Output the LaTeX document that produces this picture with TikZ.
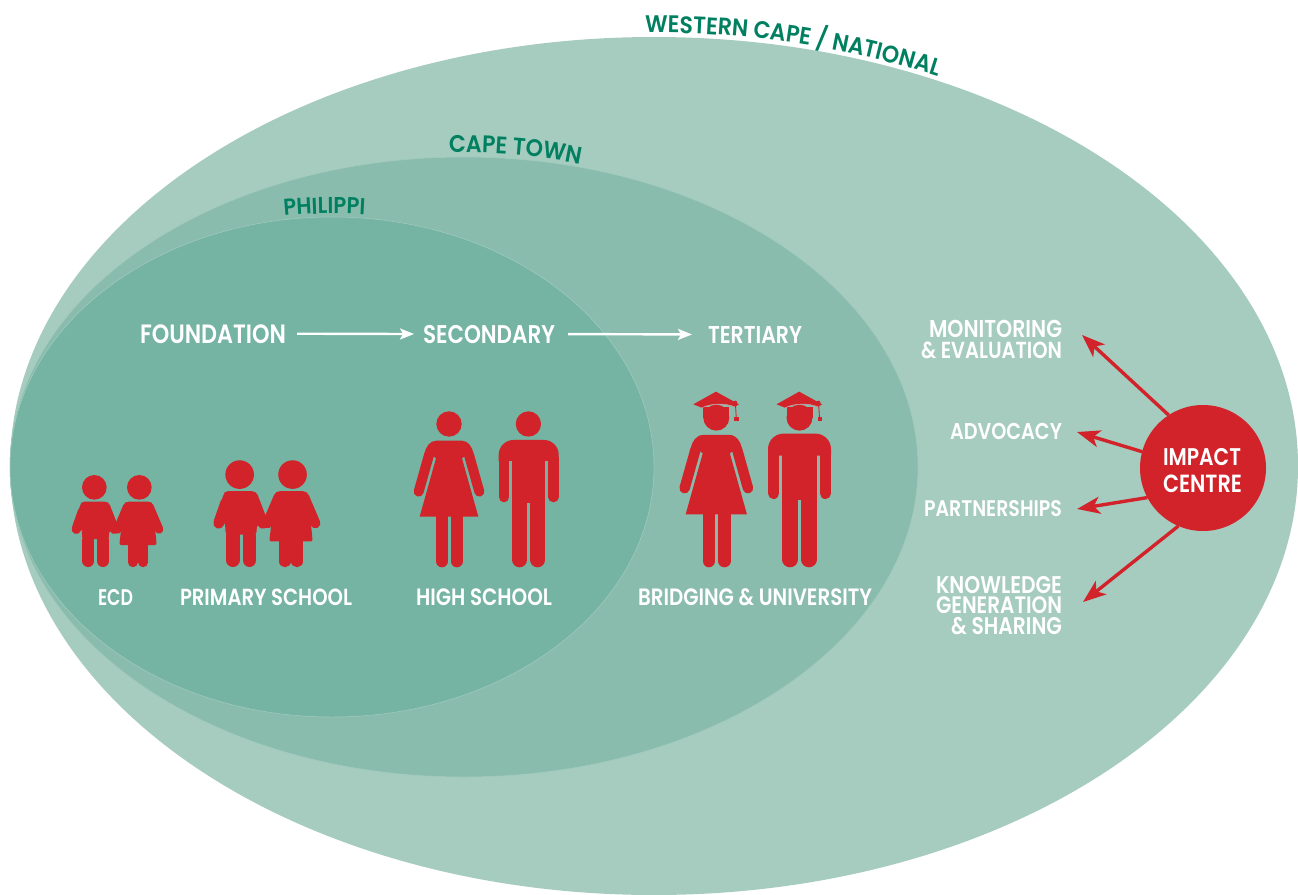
\documentclass[tikz,border=0pt]{standalone}
\usepackage{fontspec}
\usepackage{graphicx}
\usetikzlibrary{arrows.meta,decorations.text}
\newfontfamily\fut[UprightFont=* SemiBold,FakeStretch=0.84]{Poppins}
\newfontfamily\futc[UprightFont=* SemiBold,FakeStretch=0.92]{Poppins}
\newcommand\fitw[2]{\resizebox{#1pt}{!}{\fut #2}}
\definecolor{outerc}{HTML}{A6CBBF}
\definecolor{midc}{HTML}{8ABCAD}
\definecolor{innerc}{HTML}{75B3A2}
\definecolor{figred}{HTML}{D2232A}
\definecolor{edgec}{HTML}{A3CCBF}
\definecolor{labgreen}{HTML}{008060}
\tikzset{
  lab/.style={text=white,inner sep=0pt,outer sep=0pt,anchor=base west},
  hub/.style={circle,fill=figred,minimum size=126pt,inner sep=0pt,outer sep=0pt},
  redarrow/.style={draw=figred,line width=3.4pt,-{Stealth[length=23pt,width=17pt,inset=6pt]}},
  whitearrow/.style={draw=white,line width=2.4pt,-{Stealth[length=14pt,width=11pt,inset=3pt]}}
}
\newcommand\limb[3]{\draw[figred,line cap=round,line width=\fs*#3 pt] #1 -- #2;}
\newcommand\placefig[5]{\begin{scope}[shift={(#1,#2)},scale=#3,shift={(#4)}]\def\fs{#3}#5\end{scope}}
% boy template: foot line y=381, centre x=136.5
\newcommand\boyfig{%
  \fill[figred] (133,142) circle (37);
  \fill[figred,rounded corners=2pt] (97,185) -- (170,185) -- (178,190) -- (204,262) -- (178,272) -- (176,297) -- (97,297) -- (95,265) -- (66,262) -- (93,190) -- cycle;
  \limb{(79,268)}{(97,215)}{28}
  \limb{(193,268)}{(172,215)}{28}
  \limb{(115,300)}{(115,363)}{36}
  \limb{(158.5,300)}{(158.5,363)}{36}
}
% girl template: foot line y=381, centre x=264
\newcommand\girlfig{%
  \fill[figred] (268,142) circle (37);
  \fill[figred,rounded corners=2pt] (230,185) -- (300,185) -- (308,190) -- (320,315) -- (208,315) -- (222,190) -- cycle;
  \limb{(203,268)}{(232,200)}{26}
  \limb{(327,268)}{(298,200)}{26}
  \limb{(248.5,310)}{(248.5,367)}{29}
  \limb{(279.5,310)}{(279.5,367)}{29}
}
% woman body template: foot line y=562, centre x=147
\newcommand\womanbody{%
  \fill[figred] (110,182) -- (184,182) .. controls (205,182) and (216,200) .. (221,221) -- (193,229) -- (186,235) -- (235,410) -- (59,410) -- (108,235) -- (101,229) -- (73,221) .. controls (78,200) and (89,182) .. (110,182) -- cycle;
  \limb{(207,225)}{(238,335)}{30}
  \limb{(87,225)}{(56,335)}{30}
  \limb{(125.5,405)}{(125.5,544)}{36}
  \limb{(170,405)}{(170,544)}{36}
}
% man body template: foot line y=562, centre x=386
\newcommand\manbody{%
  \fill[figred] (296,243) -- (296,224) .. controls (296,200) and (316,180) .. (340,180) -- (432,180) .. controls (456,180) and (476,200) .. (476,224) -- (476,243) -- cycle;
  \fill[figred] (337,240) rectangle (435,370);
  \limb{(312,235)}{(312,351)}{32}
  \limb{(460,235)}{(460,351)}{32}
  \limb{(359,365)}{(359,540)}{44}
  \limb{(413,365)}{(413,540)}{44}
}
% graduate head template: foot line y=562, centre x=949
\newcommand\gradhead{%
  \fill[figred] (949,113) circle (39);
  \fill[figred] (910,80) rectangle (988,113);
  \fill[figred] (880,73) -- (948,35) -- (1017,73) -- (1005,80) .. controls (975,68) and (935,68) .. (905,83) -- cycle;
  \draw[figred!55!white,line width=0.5pt] (905,84) .. controls (935,69) and (975,69) .. (1005,81);
  \draw[figred,line width=0.9pt] (1006,65) -- (1009,115);
  \fill[figred] (1006,68) circle (6);
  \fill[figred] (1003,112) rectangle (1017,122);
}
\begin{document}
\begin{tikzpicture}[x=1pt,y=-1pt]
\useasboundingbox (0,0) rectangle (1298,894);
\clip (0,0) rectangle (1298,894);
\fill[white] (0,0) rectangle (1298,894);
% regions
\fill[outerc] (654,466) ellipse (644 and 429);
\filldraw[fill=midc,draw=edgec,line width=0.5pt] (464,467) ellipse (454 and 310);
\filldraw[fill=innerc,draw=edgec,line width=0.5pt] (332,467) ellipse (322 and 250);
% curved labels
\path[decorate,decoration={text along path,text color=labgreen,
  text={|\fontsize{24pt}{24pt}\selectfont\futc|WESTERN CAPE / NATIONAL}}]
  (645,33) .. controls (758.7,31.7) and (868.5,50.1) .. (968,87);
\path[decorate,decoration={text along path,text color=labgreen,
  text={|\fontsize{24pt}{24pt}\selectfont\futc|CAPE TOWN}}]
  (449,153) .. controls (505,151.6) and (556,157) .. (610,171);
\path[decorate,decoration={text along path,text color=labgreen,
  text={|\fontsize{23pt}{23pt}\selectfont\futc|PHILIPPI}}]
  (284,216) .. controls (315,213) and (350,212.5) .. (385,216);
% stage labels
\node[lab] (foundation) at (140,343) {\fitw{146}{FOUNDATION}};
\node[lab] (secondary) at (423,343) {\fitw{132}{SECONDARY}};
\node[lab] (tertiary) at (708,343) {\fitw{94}{TERTIARY}};
\draw[whitearrow,shorten <=11pt,shorten >=9pt] (foundation.east) -- (secondary.west);
\draw[whitearrow,shorten <=13pt,shorten >=16pt] (secondary.east) -- (tertiary.west);
% figures
\placefig{95.5}{567}{0.3333}{-136.5,-381}{\boyfig}
\placefig{138}{567}{0.3333}{-264,-381}{\girlfig}
\placefig{241}{567}{0.3867}{-136.5,-381}{\boyfig}
\placefig{291}{567}{0.3867}{-264,-381}{\girlfig}
\placefig{449}{567.3}{0.3333}{-147,-562}{\womanbody\fill[figred] (147,132) circle (38);}
\placefig{528.7}{567.3}{0.3333}{-386,-562}{\manbody\fill[figred] (385,132) circle (38);}
\placefig{716.3}{567.3}{0.3483}{-147,-562}{\womanbody}
\placefig{716.3}{567.3}{0.3333}{-949,-562}{\gradhead}
\placefig{799.5}{567.3}{0.35}{-386,-562}{\manbody}
\placefig{799.5}{567.3}{0.3333}{-949,-562}{\gradhead}
% level labels
\node[lab] (ecd) at (98,605) {\resizebox{35pt}{16pt}{\fut ECD}};
\node[lab] (primary) at (180,605) {\fitw{172}{PRIMARY SCHOOL}};
\node[lab] (high) at (416,605) {\fitw{136}{HIGH SCHOOL}};
\node[lab] (bridging) at (638,605) {\fitw{234}{BRIDGING \& UNIVERSITY}};
% impact centre
\coordinate (tipm) at (1082,335);
\coordinate (tipa) at (1077,432);
\coordinate (tipp) at (1077,509);
\coordinate (tipk) at (1083,602);
\node[hub] (impact) at (1203,468) {};
\draw[redarrow] (impact.123) -- (tipm);
\draw[redarrow] (impact.165) -- (tipa);
\draw[redarrow] (impact.208) -- (tipp);
\draw[redarrow] (impact.247) -- (tipk);
\node[lab] (impa) at (1163,465) {\fitw{78}{IMPACT}};
\node[lab] (impb) at (1163,492) {\fitw{79}{CENTRE}};
\node[lab] (mon) at (929,337) {\fitw{133}{MONITORING}};
\node[lab] (eval) at (921,358) {\fitw{141}{\& EVALUATION}};
\node[lab] (adv) at (950,439) {\fitw{112}{ADVOCACY}};
\node[lab] (part) at (924,516) {\fitw{138}{PARTNERSHIPS}};
\node[lab] (know) at (936,593) {\fitw{126}{KNOWLEDGE}};
\node[lab] (gen) at (936,613) {\fitw{126}{GENERATION}};
\node[lab] (shar) at (951,634) {\fitw{111}{\& SHARING}};
\end{tikzpicture}
\end{document}
